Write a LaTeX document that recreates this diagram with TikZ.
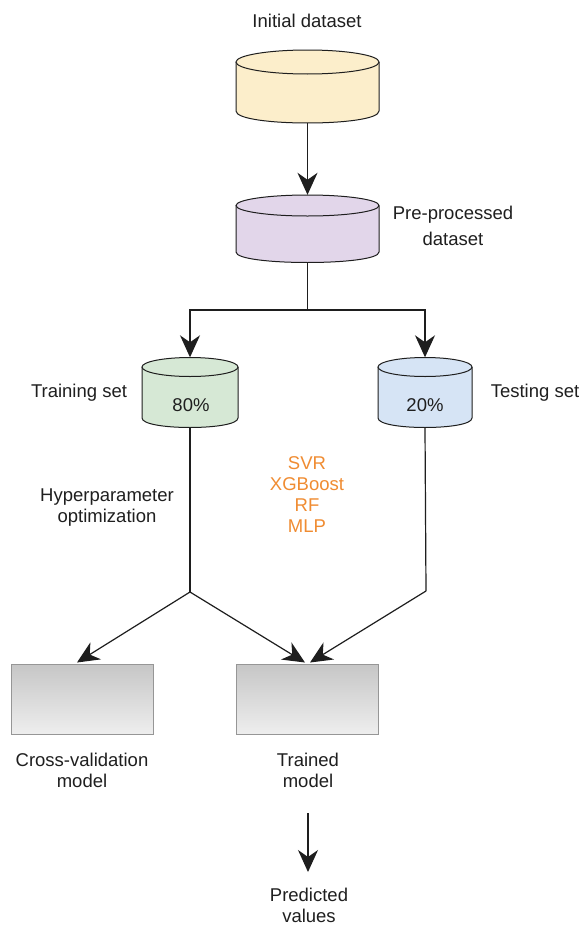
\documentclass[tikz,border=0pt]{standalone}
\usepackage{fontspec}
\setmainfont{Liberation Sans}
\usetikzlibrary{arrows.meta}
\definecolor{cylA}{RGB}{252,238,203}
\definecolor{cylB}{RGB}{226,214,234}
\definecolor{cylC}{RGB}{214,232,213}
\definecolor{cylD}{RGB}{214,228,245}
\definecolor{orng}{RGB}{240,140,50}
\definecolor{lin}{RGB}{30,30,30}
\definecolor{boxtop}{RGB}{198,198,198}
\definecolor{boxbot}{RGB}{238,238,238}
\definecolor{boxline}{RGB}{150,150,150}
% name, cx, ytop(center of top ellipse), yside(bottom of sides), rx, ry, fill
\newcommand\mycyl[7]{%
  \fill[#7] (#2-#5,#3) -- (#2-#5,#4) .. controls (#2-#5,#4+1.333*#6) and (#2+#5,#4+1.333*#6) .. (#2+#5,#4) -- (#2+#5,#3) -- cycle;
  \draw[cylline] (#2-#5,#3) -- (#2-#5,#4) .. controls (#2-#5,#4+1.333*#6) and (#2+#5,#4+1.333*#6) .. (#2+#5,#4) -- (#2+#5,#3);
  \draw[cylline,fill=#7] (#2,#3) ellipse [x radius=#5, y radius=#6];
  \node[inner sep=0pt, minimum width=2*#5 pt, minimum height=(#4+#6-#3+#6)*1pt] (#1) at (#2,{(#3-#6+#4+#6)/2}) {};
}
\tikzset{
  txt/.style={font=\fontsize{18.5}{21}\selectfont, text=black!88, align=center, inner sep=0pt},
  cylline/.style={draw=lin, line width=1pt},
  conn/.style={draw=lin, line width=1.2pt},
  arr/.style={conn, -{Stealth[length=22pt,width=20pt,inset=7pt]}},
  modelbox/.style={draw=boxline, line width=1pt, shading=axis, top color=boxtop, bottom color=boxbot, minimum width=142pt, minimum height=70pt, inner sep=0pt},
}
\begin{document}
\begin{tikzpicture}[x=1pt,y=-1pt]
\useasboundingbox (0,0) rectangle (580,926);
\fill[white] (0,0) rectangle (580,926);

\node[txt] (lab1) at (307,21) {Initial dataset};
\mycyl{c1}{307.5}{62}{111}{71.5}{12}{cylA}
\mycyl{c2}{307.5}{205.5}{252}{71.5}{10.5}{cylB}
\node[txt, font=\fontsize{18.5}{26}\selectfont] (lab2) at (453,226) {Pre-processed\\dataset};

\mycyl{c3}{190}{367}{418}{48}{9.5}{cylC}
\mycyl{c4}{425}{367}{418}{47}{9.5}{cylD}
\node[txt] (p80) at (191,405) {80\%};
\node[txt] (p20) at (425,405) {20\%};
\node[txt] (lab3) at (79,393) {Training set};
\node[txt] (lab4) at (535,393) {Testing set};

\node[txt] (hyp) at (107,508) {Hyperparameter\\optimization};
\node[txt, text=orng] (algs) at (307,495) {SVR\\XGBoost\\RF\\MLP};

\node[modelbox] (cv) at (82,699) {};
\node[modelbox] (tm) at (307,699) {};
\node[txt] (lab5) at (82,770) {Cross-validation\\model};
\node[txt] (lab6) at (308,770) {Trained\\model};
\node[txt] (pv) at (309,905) {Predicted\\values};

\coordinate (split) at (307.5,310);
\coordinate (j1) at (190,592);
\coordinate (j2) at (426,591);
\coordinate (a1) at (308,813);
\coordinate (a2) at (308,872);

\draw[arr] (c1.south) -- (c2.north);
\draw[conn] (c2.south) -- (split);
\draw[arr] (split) -| (c3.north);
\draw[arr] (split) -| (c4.north);
\draw[conn] (c3.south) -- (j1);
\draw[arr] (j1) -- ([xshift=-5pt,yshift=1pt]cv.north);
\draw[arr] (j1) -- ([xshift=-2pt,yshift=1pt]tm.north);
\draw[conn] (c4.south) -- (j2);
\draw[arr] (j2) -- ([xshift=3pt,yshift=1pt]tm.north);
\draw[arr] (a1) -- (a2);
\end{tikzpicture}
\end{document}
